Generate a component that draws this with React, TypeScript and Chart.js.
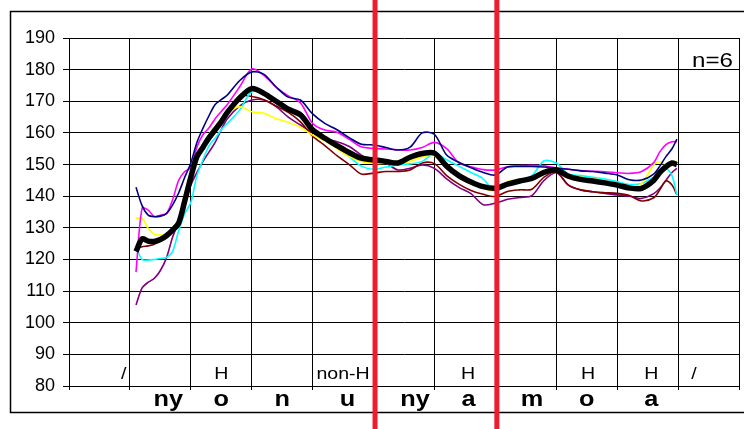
import React, { useEffect, useRef } from "react";
import { Chart, registerables } from "chart.js";

Chart.register(...registerables);

// Normalised time positions (in category units, 0..11)
const X_POS = [
  1.1, 1.2, 1.3, 1.4, 1.5, 1.6, 1.7, 1.8, 1.9, 2.0, 2.1, 2.2, 2.3, 2.4, 2.5, 2.6,
  2.8, 3.0, 3.2, 3.4, 3.6, 3.8, 4.0, 4.2, 4.4, 4.6, 4.8, 5.0, 5.2, 5.4, 5.6, 5.8,
  6.0, 6.2, 6.4, 6.6, 6.8, 7.0, 7.2, 7.4, 7.6, 7.8, 8.0, 8.2, 8.4, 8.6, 8.8, 9.0,
  9.2, 9.4, 9.6, 9.7, 9.8, 9.9, 9.98,
];

const SPEAKER_NAVY = [
  142.8, 137, 134, 133.5, 133.7, 134.5, 137.2, 141, 146, 150.5, 157, 161.5, 165.5, 169, 170.5, 172,
  176.5, 179.3, 178.5, 174.5, 171.3, 170.4, 166, 163, 161, 158.5, 156.4, 156.2, 155.4, 154.6, 155.5, 160,
  159.5, 153, 150.7, 149, 147.5, 146.7, 149.2, 149.4, 149.4, 149.2, 148.8, 148.5, 148, 147.8, 147.3, 146.7,
  145.2, 145.1, 147, 149.5, 152.5, 155, 158,
];

const SPEAKER_MAGENTA = [
  116, 136.2, 135.6, 133.6, 134, 134.5, 138.8, 145, 147.8, 149, 155.5, 159.5, 161.6, 164.5, 166.8, 169,
  174.5, 180.2, 178.2, 174.5, 171.7, 169.5, 163, 160.9, 160.2, 158, 155.6, 155.1, 154.9, 154.7, 154.6, 155.4,
  157, 155, 150.5, 149.3, 148.4, 148.3, 149.3, 149.6, 149.8, 149.6, 149, 148.5, 148.1, 147.9, 147.7, 147.4,
  147.2, 147.8, 150.6, 154, 156.3, 157.2, 157.2,
];

const SPEAKER_YELLOW = [
  133, 133, 129.8, 128, 127.7, 128, 129.8, 132.5, 141, 147, 152, 156, 159.5, 162, 164.5, 166.5,
  168.3, 166.7, 166.2, 164.5, 163.4, 161.8, 159.3, 157.5, 155, 152.5, 151, 150.4, 150.4, 150.4, 151, 152.4,
  152.8, 149, 146.3, 144.5, 142.5, 141.6, 144.6, 145.2, 145.7, 147.5, 148.5, 146.5, 146, 145.5, 144.8, 144,
  142.8, 144, 149.9, 150.9, 150, 150.5, 151,
];

const SPEAKER_CYAN = [
  124, 120, 119.8, 120, 120.3, 120.6, 122.5, 129, 134.5, 138, 146.5, 151.5, 156, 158.3, 161, 163,
  167.2, 173, 172.5, 170.5, 168, 166.2, 160.8, 158.3, 155.5, 152.5, 149.5, 148.5, 149.2, 149.9, 150.2, 151,
  153.5, 151.5, 149.5, 147.5, 145.5, 141.4, 144, 145, 146.5, 151.2, 150.5, 147, 146.5, 146, 145.4, 144.6,
  143.7, 144, 146, 147.5, 148.8, 146.5, 140.4,
];

const SPEAKER_DARKRED = [
  123.5, 124, 124.3, 124.8, 126, 127.8, 128.8, 130.5, 137, 145, 151.5, 155, 158, 161, 163.5, 166.5,
  171.7, 171.5, 170.5, 168.5, 166.5, 163.5, 159, 156, 152.8, 150, 147, 147.3, 147.8, 147.8, 148.3, 150.5,
  150.3, 146.5, 143.8, 141.8, 140.6, 139.9, 141.5, 142, 142.2, 146, 147.7, 143.5, 142, 141.4, 141.1, 140.9,
  140.2, 138.5, 139.5, 142, 144.8, 143.5, 140.4,
];

const SPEAKER_PURPLE = [
  105.6, 111, 112.8, 114, 116.5, 120.5, 127, 132, 138, 143.5, 147.5, 151, 154, 157, 161, 164.5,
  168.5, 170.4, 170.4, 168.3, 165, 162.5, 160, 158.2, 157.2, 155.7, 153, 150.8, 150.4, 148.3, 148.8, 149.9,
  148.8, 145.5, 142.8, 140.8, 137.3, 137.8, 139, 139.6, 140.2, 145, 147.4, 143.5, 142, 141.4, 140.9, 140.4,
  140, 139.3, 140.8, 142.5, 145, 147.5, 148.8,
];

const MEAN = [
  122.5, 126.5, 125.8, 125.7, 126.3, 127.5, 129.3, 131.5, 138.5, 146, 152.5, 155.5, 158.5, 161, 163.5, 166.5,
  171, 174, 172.5, 170, 167.5, 165.7, 161, 158.3, 156, 153.8, 152, 151.5, 151, 150.5, 152.3, 153.5,
  153.6, 149.5, 146.5, 144.5, 143, 142.5, 143.8, 144.8, 145.6, 147.5, 148.3, 146.3, 145.3, 144.8, 144.2, 143.5,
  142.6, 142.5, 145, 147.5, 149.3, 150.5, 150,
];

const Y_MIN = 80;
const Y_MAX = 190;
const Y_STEP = 10;
const CATEGORY_COUNT = 11;

const SEGMENT_LABELS = ["", "ny", "o", "n", "u", "ny", "a", "m", "o", "a", ""];
const TONE_LABELS = ["/", "H", "non-H", "H", "H", "H", "/"];
const BOUNDARIES = [5, 7];
const NOTE = "n=6";

// layout only (category units)
const SEGMENT_SHIFT = [0, 0.13, 0, 0, 0.07, 0.18, 0.06, 0.1, 0, 0.06, 0];
const TONE_AT = [0.9, 2.5, 4.5, 6.55, 8.52, 9.56, 10.26];

const SERIES = [
  { data: SPEAKER_NAVY, color: "#000080" },
  { data: SPEAKER_MAGENTA, color: "#ff00ff" },
  { data: SPEAKER_YELLOW, color: "#ffff00" },
  { data: SPEAKER_CYAN, color: "#00ffff" },
  { data: SPEAKER_DARKRED, color: "#800000" },
  { data: SPEAKER_PURPLE, color: "#800080" },
];

const FONT = '"Liberation Sans", Arial, sans-serif';

const overlayPlugin = {
  id: "overlay",
  afterDraw(chart: any) {
    const ctx = chart.ctx as CanvasRenderingContext2D;
    const xs = chart.scales.x;
    const { top, bottom, right } = chart.chartArea;
    ctx.save();
    // outer frame
    ctx.strokeStyle = "#000";
    ctx.lineWidth = 1.5;
    ctx.strokeRect(10.5, 11.5, 800, 401);

    const stretch = 1.15;
    const drawText = (t: string, x: number, y: number, font: string, align: CanvasTextAlign) => {
      ctx.save();
      ctx.font = font;
      ctx.fillStyle = "#000";
      ctx.textBaseline = "alphabetic";
      ctx.textAlign = align;
      ctx.translate(x, y);
      ctx.scale(stretch, 1);
      ctx.fillText(t, 0, 0);
      ctx.restore();
    };

    SEGMENT_LABELS.forEach((t, i) => {
      if (t)
        drawText(
          t,
          xs.getPixelForValue(i + 0.5 + SEGMENT_SHIFT[i]),
          bottom + 19.5,
          `bold 22px ${FONT}`,
          "center"
        );
    });
    TONE_LABELS.forEach((t, i) => {
      drawText(t, xs.getPixelForValue(TONE_AT[i]), bottom - 7, `17px ${FONT}`, "center");
    });
    drawText(NOTE, right - 6, top + 29, `21px ${FONT}`, "right");

    // red boundary lines
    ctx.strokeStyle = "#ee1c2c";
    ctx.lineWidth = 5;
    BOUNDARIES.forEach((b) => {
      const x = xs.getPixelForValue(b) + 1.5;
      ctx.beginPath();
      ctx.moveTo(x, 0);
      ctx.lineTo(x, chart.height);
      ctx.stroke();
    });
    ctx.restore();
  },
};

export default function App() {
  const ref = useRef<HTMLCanvasElement>(null);
  useEffect(() => {
    document.body.style.margin = "0";
    const datasets: any[] = SERIES.map((s, i) => ({
      data: X_POS.map((x, k) => ({ x, y: s.data[k] })),
      borderColor: s.color,
      borderWidth: 1.6,
      pointRadius: 0,
      tension: 0.3,
      fill: false,
      order: i + 1,
    }));
    datasets.push({
      data: X_POS.map((x, k) => ({ x, y: MEAN[k] })),
      borderColor: "#000",
      borderWidth: 5.5,
      pointRadius: 0,
      tension: 0.3,
      fill: false,
      order: 0,
    });
    const chart = new Chart(ref.current!, {
      type: "line",
      data: { datasets },
      options: {
        animation: false,
        responsive: false,
        devicePixelRatio: 1,
        layout: { padding: { left: 0, right: 5, top: 38, bottom: 0 } },
        plugins: { legend: { display: false }, tooltip: { enabled: false } },
        scales: {
          x: {
            type: "linear",
            min: 0,
            max: CATEGORY_COUNT,
            ticks: { stepSize: 1, display: false },
            grid: { color: "#000", lineWidth: 1, tickLength: 4, drawTicks: true },
            border: { color: "#000", width: 1 },
            afterFit: (s: any) => {
              s.height = 43;
            },
          },
          y: {
            min: Y_MIN,
            max: Y_MAX,
            ticks: { stepSize: Y_STEP, color: "#000", padding: 8, font: { family: FONT, size: 18 } },
            grid: { color: "#000", lineWidth: 1, tickLength: 6 },
            border: { color: "#000", width: 1 },
            afterFit: (s: any) => {
              s.width = 69;
            },
          },
        },
      },
      plugins: [overlayPlugin],
    } as any);
    return () => chart.destroy();
  }, []);
  return (
    <div style={{ position: "absolute", left: 0, top: 0, width: 744, height: 429, background: "#fff" }}>
      <canvas ref={ref} width={744} height={429} style={{ display: "block", width: 744, height: 429 }} />
    </div>
  );
}
